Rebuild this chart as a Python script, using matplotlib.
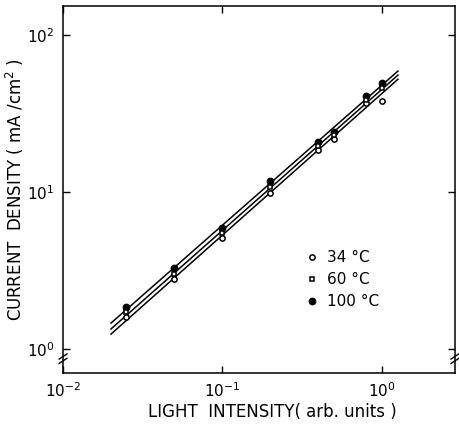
import numpy as np
import matplotlib
matplotlib.use("Agg")
import matplotlib.pyplot as plt
from matplotlib.ticker import LogLocator, NullLocator

# light intensity (arb. units) and current density (mA/cm2)
intensity = [0.025, 0.05, 0.1, 0.2, 0.4, 0.5, 0.8, 1.0]
j_34 = [1.60, 2.79, 5.09, 9.86, 18.5, 21.8, 36.9, 38.0]
j_60 = [1.72, 3.00, 5.44, 10.7, 19.6, 23.1, 38.5, 46.0]
j_100 = [1.85, 3.28, 5.90, 11.7, 20.8, 24.1, 40.9, 49.5]
labels = ["34 °C", "60 °C", "100 °C"]

fit_range = (0.02, 1.26)
# the 34 °C point at intensity 1.0 sits off its line, leave it out of the fit
fit_points = [7, 8, 8]

plt.rcParams["font.family"] = ["DejaVu Sans"]
fig = plt.figure(figsize=(4.6, 4.26), dpi=100)
ax = fig.add_axes([0.137, 0.1244, 0.852, 0.8616])
ax.set_xscale("log")
ax.set_yscale("log")

# fitted straight lines (in log-log space)
xf = np.logspace(np.log10(fit_range[0]), np.log10(fit_range[1]), 20)
for ys, n in zip((j_34, j_60, j_100), fit_points):
    k, b = np.polyfit(np.log10(intensity[:n]), np.log10(ys[:n]), 1)
    ax.plot(xf, 10 ** (k * np.log10(xf) + b), color="black", lw=1.1)

ax.plot(intensity, j_34, "o", ms=3.8, mfc="white", mec="black", mew=1.1,
        label=labels[0], zorder=3)
ax.plot(intensity, j_60, "s", ms=3.2, mfc="white", mec="black", mew=1.1,
        label=labels[1], zorder=3)
ax.plot(intensity, j_100, "o", ms=4.6, mfc="black", mec="black",
        label=labels[2], zorder=2)

ax.set_xlim(0.01, 2.87)
ax.set_ylim(0.703, 153)

ax.xaxis.set_major_locator(LogLocator(base=10, numticks=10))
ax.yaxis.set_major_locator(LogLocator(base=10, numticks=10))
ax.xaxis.set_minor_locator(NullLocator())
ax.yaxis.set_minor_locator(NullLocator())
ax.tick_params(which="major", direction="in", length=5, width=1,
               top=True, right=True, labelsize=11, pad=6)

for s in ax.spines.values():
    s.set_linewidth(1.1)

# axis break marks near the bottom of both vertical axes
for x0 in (0.0, 1.0):
    for dy in (0.0, 0.012):
        ax.plot([x0 - 0.01, x0 + 0.01], [0.026 + dy, 0.040 + dy],
                transform=ax.transAxes, color="black", lw=1, clip_on=False)

ax.set_xlabel("LIGHT  INTENSITY( arb. units )", fontsize=12, labelpad=2)
ax.xaxis.label.set_x(0.535)
ax.set_ylabel("CURRENT  DENSITY ( mA /cm$^2$ )", fontsize=12, labelpad=1)

ax.legend(loc="upper left", bbox_to_anchor=(0.60, 0.355), frameon=False,
          fontsize=11, handlelength=0.8, handletextpad=0.6, labelspacing=0.45,
          borderpad=0)

fig.savefig("out.png", dpi=100)
